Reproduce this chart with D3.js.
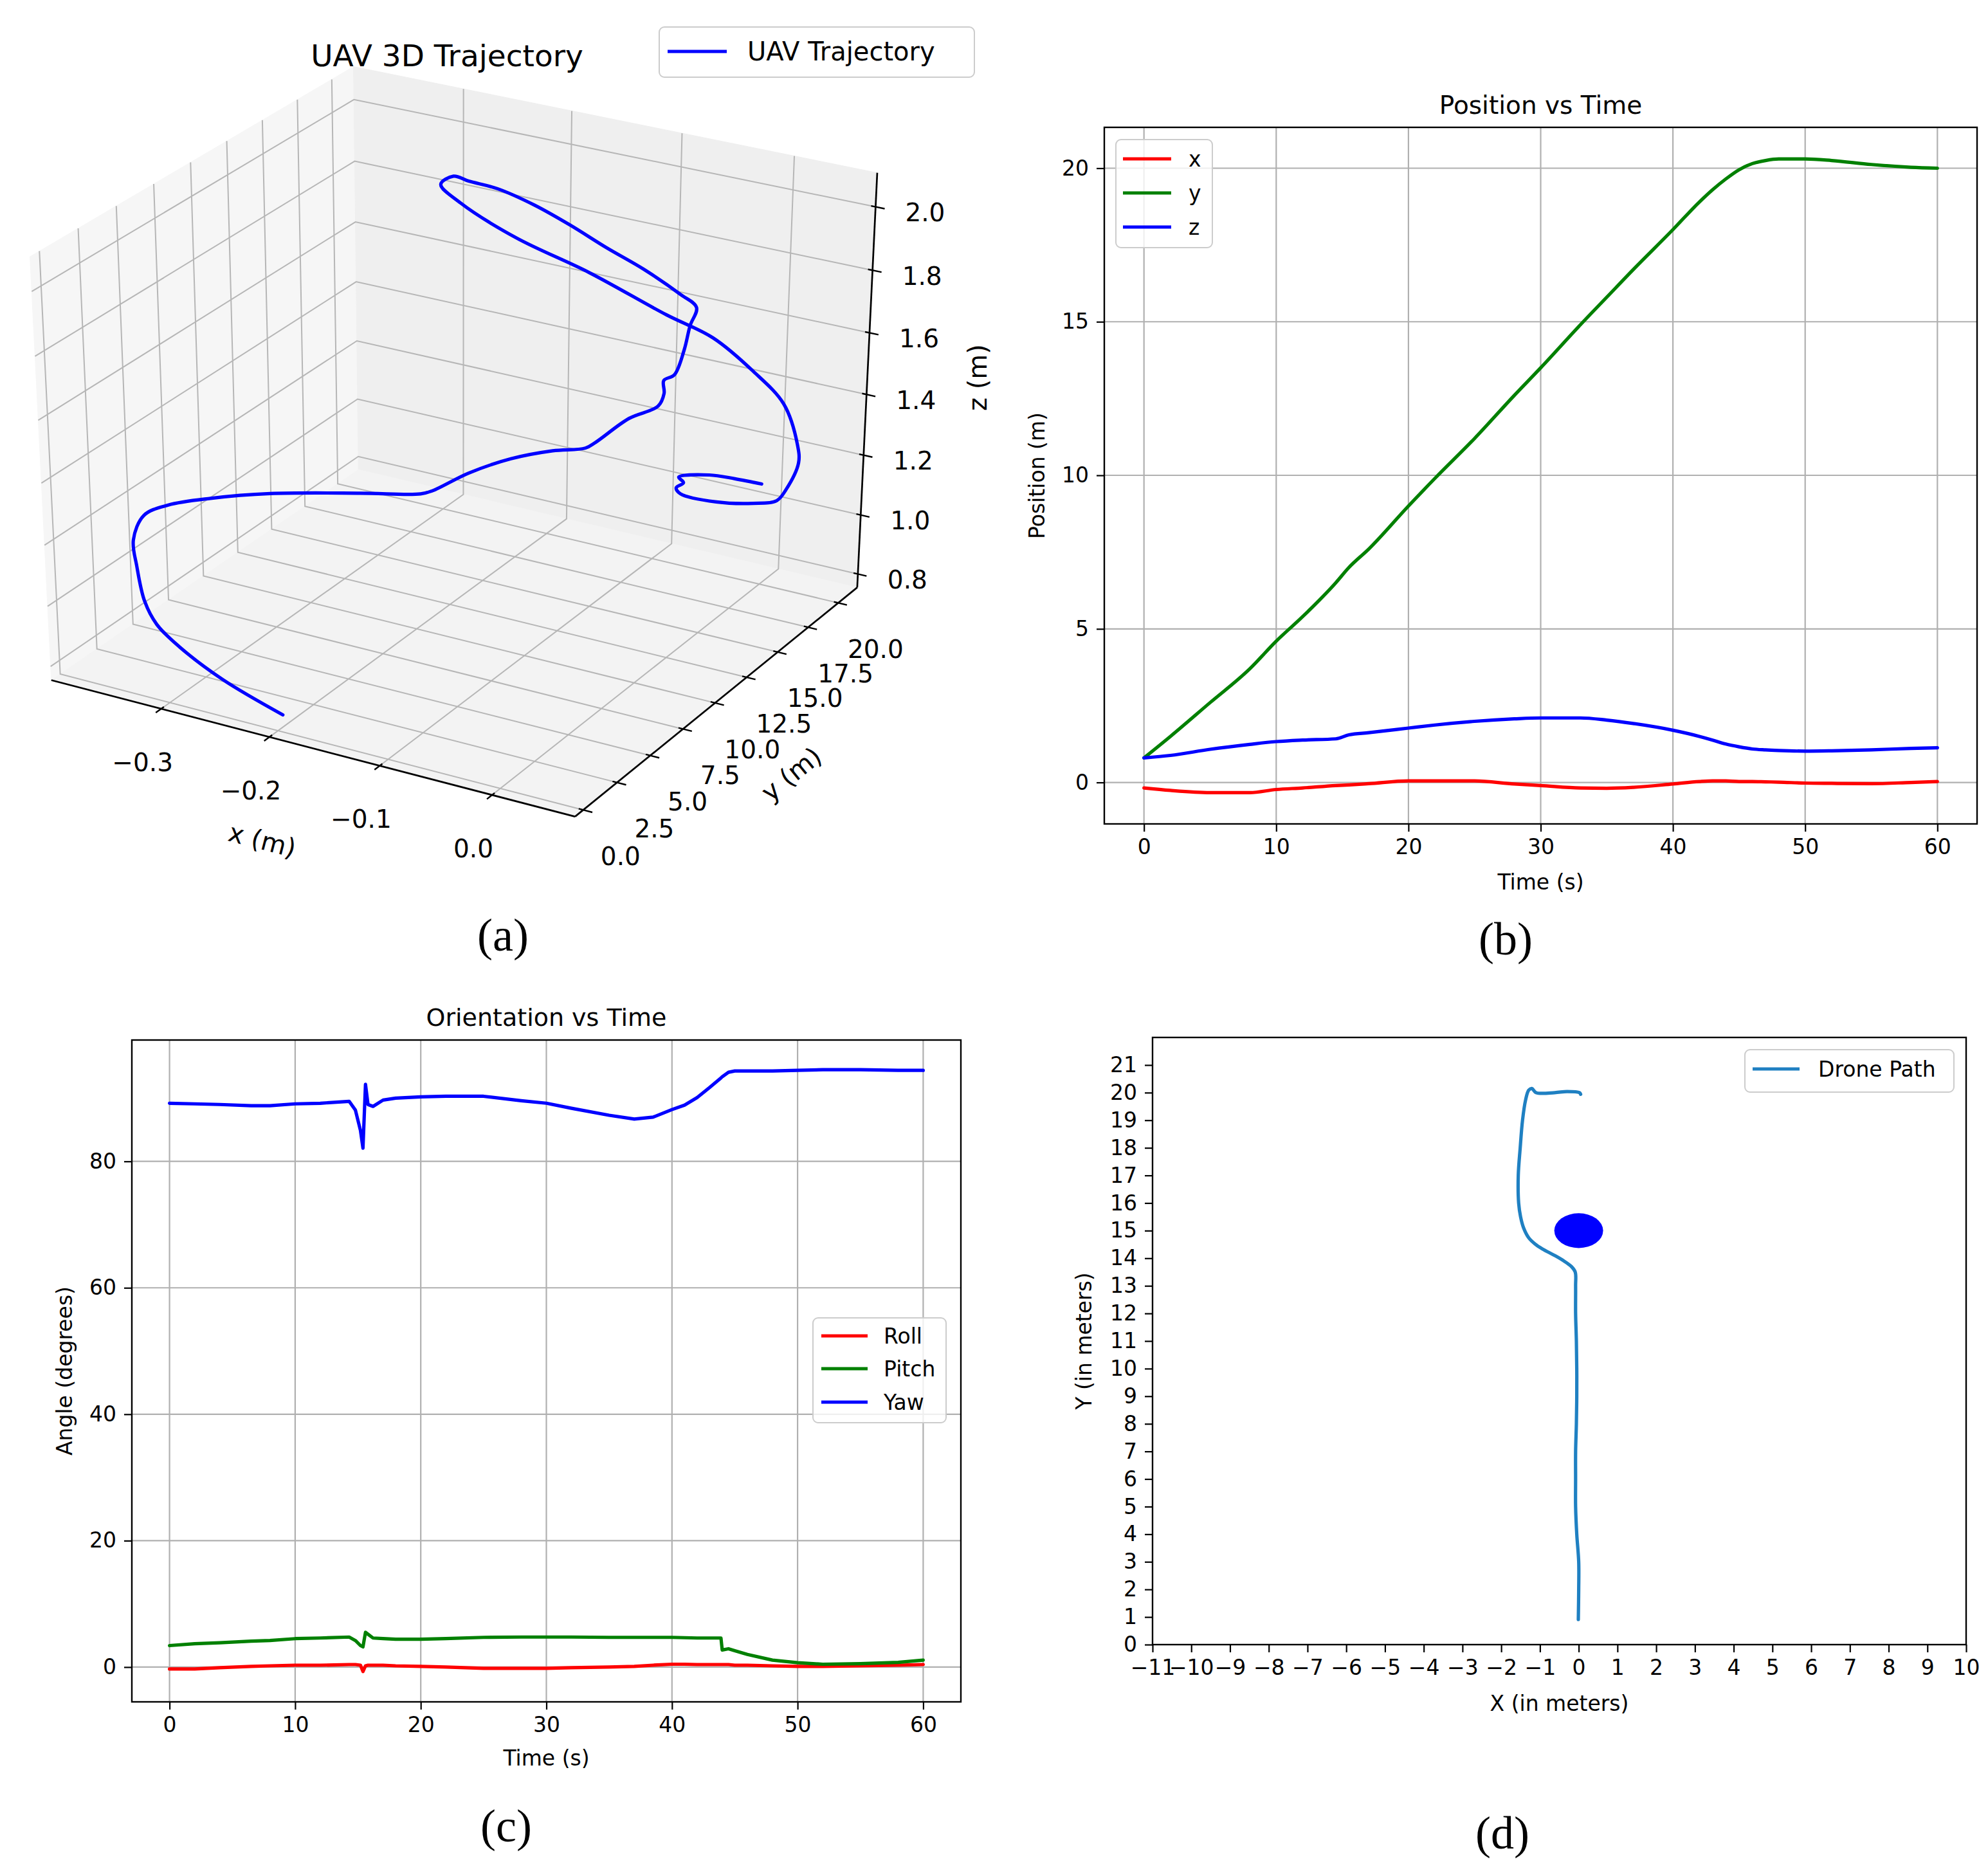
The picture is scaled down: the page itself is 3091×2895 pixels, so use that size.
<!DOCTYPE html>
<html>
<head>
<meta charset="utf-8">
<script src="https://cdn.jsdelivr.net/npm/d3@7"></script>
<style>
  body { margin: 0; background: #fff; }
</style>
</head>
<body>
<script>
// ---------- (a) UAV 3D trajectory ----------
const trajX = [-0.206, -0.273, -0.323, -0.349, -0.365, -0.379, -0.389, -0.386, -0.367, -0.332, -0.283, -0.210, -0.162, -0.153, -0.125, -0.093, -0.061, -0.037, -0.030, -0.007, 0.014, 0.017, 0.015, 0.022, 0.027, 0.028, 0.030, 0.013, -0.025, -0.064, -0.102, -0.140, -0.179, -0.210, -0.227, -0.241, -0.227, -0.185, -0.129, -0.069, -0.032, -0.001, 0.023, 0.033, 0.033, 0.020, 0.011, -0.011, -0.045, -0.078, -0.082, -0.075, -0.079, -0.050, -0.026, -0.001];
const trajY = [0.8, 1.68, 2.42, 2.78, 3.15, 3.7, 4.24, 4.8, 5.12, 5.49, 6.0, 6.8, 7.32, 7.48, 7.83, 8.3, 8.72, 9.13, 9.31, 9.79, 10.15, 10.32, 10.45, 10.63, 10.89, 11.2, 11.48, 11.75, 12.26, 12.76, 13.27, 13.78, 14.29, 14.7, 14.97, 15.16, 15.48, 16.2, 17.08, 17.96, 18.43, 18.96, 19.37, 19.7, 19.86, 20.1, 20.2, 20.27, 20.3, 20.28, 20.26, 20.23, 20.18, 20.1, 20.05, 20.0];
const trajZ = [0.773, 0.798, 0.836, 0.876, 0.927, 1.013, 1.074, 1.140, 1.180, 1.220, 1.261, 1.299, 1.321, 1.334, 1.403, 1.461, 1.500, 1.516, 1.535, 1.614, 1.659, 1.696, 1.731, 1.749, 1.823, 1.889, 1.939, 1.958, 1.992, 2.016, 2.043, 2.063, 2.071, 2.061, 2.057, 2.016, 1.959, 1.860, 1.767, 1.653, 1.594, 1.495, 1.395, 1.261, 1.195, 1.087, 1.040, 1.010, 0.985, 0.985, 1.003, 1.027, 1.044, 1.078, 1.087, 1.092];
const xLim3d = [-0.4034, 0.0727];
const yLim3d = [-0.6, 21.6];
const zLim3d = [0.754, 2.106];
const xTicks3d = [-0.3, -0.2, -0.1, 0.0];
const yTicks3d = [0, 2.5, 5, 7.5, 10, 12.5, 15, 17.5, 20];
const zTicks3d = [0.8, 1.0, 1.2, 1.4, 1.6, 1.8, 2.0];

// ---------- (b) Position vs Time ----------
const timePos = [0, 2, 5, 8, 10, 12, 14.5, 15.5, 17, 20, 22, 25, 28, 30, 33, 35, 37, 40, 42, 43, 44, 45, 46, 47, 48, 50, 52, 55, 58, 60];
const posX = [-0.18, -0.26, -0.33, -0.33, -0.23, -0.18, -0.1, -0.08, -0.04, 0.05, 0.05, 0.05, -0.05, -0.1, -0.18, -0.19, -0.16, -0.05, 0.03, 0.05, 0.05, 0.03, 0.03, 0.02, 0.01, -0.02, -0.03, -0.04, 0.0, 0.03];
const posY = [0.8, 1.5, 2.6, 3.7, 4.6, 5.4, 6.5, 7.0, 7.6, 9.0, 9.9, 11.2, 12.6, 13.5, 14.9, 15.8, 16.7, 18.0, 18.9, 19.3, 19.65, 19.95, 20.15, 20.25, 20.3, 20.3, 20.25, 20.12, 20.03, 20.0];
const posZ = [0.8, 0.88, 1.08, 1.24, 1.33, 1.38, 1.42, 1.55, 1.62, 1.77, 1.87, 1.99, 2.07, 2.1, 2.1, 2.03, 1.92, 1.7, 1.5, 1.38, 1.25, 1.16, 1.09, 1.06, 1.04, 1.02, 1.03, 1.06, 1.11, 1.13];
const timeTicks = [0, 10, 20, 30, 40, 50, 60];
const posTicks = [0, 5, 10, 15, 20];

// ---------- (c) Orientation vs Time ----------
const timeOri = [0, 2, 4, 6.5, 8, 10, 12, 14.3, 14.8, 15.2, 15.4, 15.6, 15.8, 16.2, 17, 18, 20, 22, 25, 28, 30, 32, 35, 37, 38.5, 40, 41, 42, 43, 43.9, 44, 44.5, 45, 46, 48, 50, 52, 55, 58, 60];
const roll  = [-0.3, -0.3, -0.1, 0.1, 0.2, 0.3, 0.3, 0.4, 0.4, 0.3, -0.7, 0.2, 0.3, 0.3, 0.3, 0.2, 0.1, 0.0, -0.2, -0.2, -0.2, -0.1, 0.0, 0.1, 0.3, 0.45, 0.45, 0.4, 0.4, 0.4, 0.4, 0.4, 0.3, 0.3, 0.2, 0.1, 0.1, 0.2, 0.3, 0.4];
const pitch = [3.4, 3.7, 3.85, 4.1, 4.2, 4.5, 4.6, 4.75, 4.2, 3.4, 3.2, 5.5, 5.2, 4.6, 4.5, 4.4, 4.4, 4.5, 4.7, 4.75, 4.75, 4.75, 4.7, 4.7, 4.7, 4.7, 4.65, 4.6, 4.6, 4.6, 2.7, 2.9, 2.6, 2.0, 1.1, 0.7, 0.45, 0.55, 0.75, 1.1];
const yaw   = [89.2, 89.1, 89.0, 88.8, 88.8, 89.1, 89.2, 89.5, 88.1, 84.9, 82.1, 92.2, 89.0, 88.7, 89.7, 90.0, 90.2, 90.3, 90.3, 89.6, 89.2, 88.4, 87.3, 86.7, 87.0, 88.2, 88.9, 90.1, 91.7, 93.2, 93.4, 94.1, 94.3, 94.3, 94.3, 94.4, 94.5, 94.5, 94.4, 94.4];
const angleTicks = [0, 20, 40, 60, 80];

// ---------- (d) Drone path ----------
const pathX = [-0.01, 0.0, 0.0, -0.05, -0.08, -0.08, -0.08, -0.06, -0.05, -0.05, -0.06, -0.08, -0.08, -0.09, -0.19, -0.38, -0.62, -0.94, -1.13, -1.29, -1.42, -1.50, -1.55, -1.56, -1.51, -1.45, -1.37, -1.29, -1.21, -1.10, -0.62, -0.30, 0.02, 0.05];
const pathY = [0.91, 2, 3, 4, 5, 6, 7, 8, 9, 10, 11, 12, 13, 13.5, 13.7, 13.9, 14.1, 14.34, 14.52, 14.74, 15.09, 15.5, 16.0, 17.0, 18.0, 19.0, 19.74, 20.09, 20.15, 20.0, 20.0, 20.04, 20.0, 19.94];
const obstacleCenter = [0, 15];
const obstacleRadius = 0.63;
const meterTicksX = [-11, -10, -9, -8, -7, -6, -5, -4, -3, -2, -1, 0, 1, 2, 3, 4, 5, 6, 7, 8, 9, 10];
const meterTicksY = [0, 1, 2, 3, 4, 5, 6, 7, 8, 9, 10, 11, 12, 13, 14, 15, 16, 17, 18, 19, 20, 21];

const captions = ['(a)', '(b)', '(c)', '(d)'];

// ------------------------------------------------------------
const W = 3091, H = 2895;
const FONT = '"DejaVu Sans", sans-serif';
const svg = d3.select('body').append('svg')
  .attr('width', W).attr('height', H)
  .attr('viewBox', `0 0 ${W} ${H}`);
svg.append('rect').attr('width', W).attr('height', H).attr('fill', '#fff');

function addText(g, x, y, str, fs, opts = {}) {
  const t = g.append('text')
    .attr('x', x).attr('y', y)
    .attr('font-family', opts.family || FONT)
    .attr('font-size', fs)
    .attr('fill', '#000')
    .attr('text-anchor', opts.anchor || 'middle')
    .text(str);
  if (opts.dy) t.attr('dy', opts.dy);
  if (opts.rotate !== undefined) t.attr('transform', `rotate(${opts.rotate},${x},${y})`);
  return t;
}

function legend(g, o) {
  g.append('rect')
    .attr('x', o.x).attr('y', o.y).attr('width', o.w).attr('height', o.h).attr('rx', 8)
    .attr('fill', '#fff').attr('fill-opacity', 0.8)
    .attr('stroke', '#cccccc').attr('stroke-width', 2);
  o.items.forEach((it, i) => {
    g.append('line')
      .attr('x1', o.lx0).attr('x2', o.lx1).attr('y1', o.rows[i]).attr('y2', o.rows[i])
      .attr('stroke', it.color).attr('stroke-width', o.lw || 5);
    addText(g, o.tx, o.rows[i], it.name, o.fs, { anchor: 'start', dy: '0.35em' });
  });
}

// generic 2D matplotlib-like panel
function panel2d(o) {
  const g = svg.append('g');
  const x = d3.scaleLinear().domain(o.xDomain).range([o.left, o.right]);
  const y = d3.scaleLinear().domain(o.yDomain).range([o.bottom, o.top]);

  if (o.grid) {
    g.append('g').selectAll('line').data(o.xTicks).join('line')
      .attr('x1', d => x(d)).attr('x2', d => x(d)).attr('y1', o.top).attr('y2', o.bottom)
      .attr('stroke', '#b0b0b0').attr('stroke-width', 2.2);
    g.append('g').selectAll('line').data(o.yTicks).join('line')
      .attr('y1', d => y(d)).attr('y2', d => y(d)).attr('x1', o.left).attr('x2', o.right)
      .attr('stroke', '#b0b0b0').attr('stroke-width', 2.2);
  }

  if (o.extra) o.extra(g, x, y);

  o.series.forEach(s => {
    const line = d3.line()
      .x(d => x(d[0])).y(d => y(d[1]))
      .curve(o.curve || d3.curveLinear);
    g.append('path')
      .datum(d3.zip(s.x, s.y))
      .attr('d', line)
      .attr('fill', 'none')
      .attr('stroke', s.color)
      .attr('stroke-width', 5.2)
      .attr('stroke-linejoin', 'round')
      .attr('stroke-linecap', 'round');
  });

  g.append('rect')
    .attr('x', o.left).attr('y', o.top)
    .attr('width', o.right - o.left).attr('height', o.bottom - o.top)
    .attr('fill', 'none').attr('stroke', '#000').attr('stroke-width', 2.4);

  const xa = g.append('g').attr('transform', `translate(0,${o.bottom})`)
    .call(d3.axisBottom(x).tickValues(o.xTicks).tickFormat(d3.format('d'))
      .tickSizeInner(12).tickSizeOuter(0).tickPadding(12));
  const ya = g.append('g').attr('transform', `translate(${o.left},0)`)
    .call(d3.axisLeft(y).tickValues(o.yTicks).tickFormat(d3.format('d'))
      .tickSizeInner(12).tickSizeOuter(0).tickPadding(12));
  [xa, ya].forEach(a => {
    a.select('.domain').remove();
    a.selectAll('line').attr('stroke', '#000').attr('stroke-width', 2.2);
    a.selectAll('text').attr('font-size', o.fs).attr('font-family', FONT).attr('fill', '#000');
  });

  if (o.title) addText(g, (o.left + o.right) / 2, o.titleY, o.title, o.titleFs);
  addText(g, (o.left + o.right) / 2, o.xLabelY, o.xLabel, o.fs, { dy: '0.35em' });
  addText(g, o.yLabelX, (o.top + o.bottom) / 2, o.yLabel, o.fs, { dy: '0.35em', rotate: -90 });

  if (o.legend) legend(g, Object.assign({ fs: o.fs }, o.legend));
  return g;
}

// ---------- panel (b) ----------
panel2d({
  left: 1717, right: 3074, top: 198, bottom: 1281,
  xDomain: [-3, 63], yDomain: [-1.35, 21.33],
  xTicks: timeTicks, yTicks: posTicks, grid: true, fs: 33,
  curve: d3.curveMonotoneX,
  series: [
    { x: timePos, y: posX, color: '#ff0000' },
    { x: timePos, y: posY, color: '#008000' },
    { x: timePos, y: posZ, color: '#0000ff' }
  ],
  title: 'Position vs Time', titleY: 177, titleFs: 39,
  xLabel: 'Time (s)', xLabelY: 1371,
  yLabel: 'Position (m)', yLabelX: 1612,
  legend: {
    x: 1735, y: 217, w: 150, h: 168, lx0: 1746, lx1: 1821, tx: 1848,
    rows: [247, 300, 353],
    items: [{ name: 'x', color: '#ff0000' }, { name: 'y', color: '#008000' }, { name: 'z', color: '#0000ff' }]
  }
});

// ---------- panel (c) ----------
panel2d({
  left: 205, right: 1494, top: 1617, bottom: 2646,
  xDomain: [-3, 63], yDomain: [-5.5, 99.2],
  xTicks: timeTicks, yTicks: angleTicks, grid: true, fs: 33,
  series: [
    { x: timeOri, y: roll, color: '#ff0000' },
    { x: timeOri, y: pitch, color: '#008000' },
    { x: timeOri, y: yaw, color: '#0000ff' }
  ],
  title: 'Orientation vs Time', titleY: 1595, titleFs: 38,
  xLabel: 'Time (s)', xLabelY: 2733,
  yLabel: 'Angle (degrees)', yLabelX: 100,
  legend: {
    x: 1264, y: 2049, w: 207, h: 163, lx0: 1277, lx1: 1349, tx: 1374,
    rows: [2077, 2128, 2180],
    items: [{ name: 'Roll', color: '#ff0000' }, { name: 'Pitch', color: '#008000' }, { name: 'Yaw', color: '#0000ff' }]
  }
});

// ---------- panel (d) ----------
panel2d({
  left: 1792, right: 3057, top: 1613, bottom: 2557,
  xDomain: [-11, 10], yDomain: [0, 22],
  xTicks: meterTicksX, yTicks: meterTicksY, grid: false, fs: 33,
  curve: d3.curveCatmullRom.alpha(0.5),
  extra: (g, x, y) => {
    g.append('ellipse')
      .attr('cx', x(obstacleCenter[0])).attr('cy', y(obstacleCenter[1]))
      .attr('rx', x(obstacleRadius) - x(0)).attr('ry', y(0) - y(obstacleRadius))
      .attr('fill', '#0000ff');
  },
  series: [{ x: pathX, y: pathY, color: '#1f80c2' }],
  xLabel: 'X (in meters)', xLabelY: 2648,
  yLabel: 'Y (in meters)', yLabelX: 1685,
  legend: {
    x: 2713, y: 1632, w: 325, h: 66, lx0: 2725, lx1: 2798, tx: 2827,
    rows: [1662],
    items: [{ name: 'Drone Path', color: '#1f80c2' }]
  }
});

// ---------- panel (a): 3D view (matplotlib-style perspective, elev 30, azim -60) ----------
(function draw3d() {
  const g = svg.append('g');
  const [x0, x1] = xLim3d, [y0, y1] = yLim3d, [z0, z1] = zLim3d;
  const nx = d3.scaleLinear().domain(xLim3d).range([0, 1]);
  const ny = d3.scaleLinear().domain(yLim3d).range([0, 1]);
  const nz = d3.scaleLinear().domain(zLim3d).range([0, 1]);

  const az = -60 * Math.PI / 180, el = 30 * Math.PI / 180, dist = 10;
  const nV = [Math.cos(az) * Math.cos(el), Math.sin(az) * Math.cos(el), Math.sin(el)];
  const uLen = Math.hypot(nV[0], nV[1]);
  const uV = [-nV[1] / uLen, nV[0] / uLen, 0];
  const vV = [nV[1] * uV[2] - nV[2] * uV[1], nV[2] * uV[0] - nV[0] * uV[2], nV[0] * uV[1] - nV[1] * uV[0]];
  const dot = (a, b) => a[0] * b[0] + a[1] * b[1] + a[2] * b[2];

  // projected view plane -> pixels
  const sx = d3.scaleLinear().domain([-0.095, 0.09]).range([-177, 1562]);
  const sy = d3.scaleLinear().domain([-0.095, 0.09]).range([1381, -10]);

  function proj(p) {
    const q = [nx(p[0]) - 0.5, ny(p[1]) - 0.5, nz(p[2]) - 0.5];
    const d = dist - dot(nV, q);
    return [sx(dot(uV, q) / d), sy(dot(vV, q) / d)];
  }
  const line3 = d3.line().x(d => proj(d)[0]).y(d => proj(d)[1]);

  // panes
  const panes = [
    { fill: '#f6f6f6', pts: [[x0, y0, z0], [x0, y1, z0], [x0, y1, z1], [x0, y0, z1]] },
    { fill: '#efefef', pts: [[x0, y1, z0], [x1, y1, z0], [x1, y1, z1], [x0, y1, z1]] },
    { fill: '#f3f3f3', pts: [[x0, y0, z0], [x1, y0, z0], [x1, y1, z0], [x0, y1, z0]] }
  ];
  g.append('g').selectAll('path').data(panes).join('path')
    .attr('d', d => line3(d.pts) + 'Z')
    .attr('fill', d => d.fill)
    .attr('stroke', d => d.fill).attr('stroke-width', 1);

  // grid
  const gridLines = [
    ...xTicks3d.map(t => [[t, y0, z0], [t, y1, z0], [t, y1, z1]]),
    ...yTicks3d.map(t => [[x1, t, z0], [x0, t, z0], [x0, t, z1]]),
    ...zTicks3d.map(t => [[x0, y0, t], [x0, y1, t], [x1, y1, t]])
  ];
  g.append('g').selectAll('path').data(gridLines).join('path')
    .attr('d', line3).attr('fill', 'none')
    .attr('stroke', '#b6b6b6').attr('stroke-width', 2);

  // axis lines
  const axes = [
    [[x0, y0, z0], [x1, y0, z0]],
    [[x1, y0, z0], [x1, y1, z0]],
    [[x1, y1, z0], [x1, y1, z1]]
  ];
  g.append('g').selectAll('path').data(axes).join('path')
    .attr('d', line3).attr('fill', 'none')
    .attr('stroke', '#000').attr('stroke-width', 2.7);

  // tick marks
  const dx = (x1 - x0) / 12, dy = (y1 - y0) / 12;
  const tickLines = [
    ...xTicks3d.map(t => [[t, y0 - 0.2 * dy, z0], [t, y0 + 0.1 * dy, z0]]),
    ...yTicks3d.map(t => [[x1 + 0.2 * dx, t, z0], [x1 - 0.1 * dx, t, z0]]),
    ...zTicks3d.map(t => [[x1 + 0.2 * dx, y1, t], [x1 - 0.1 * dx, y1, t]])
  ];
  g.append('g').selectAll('path').data(tickLines).join('path')
    .attr('d', line3).attr('fill', 'none')
    .attr('stroke', '#000').attr('stroke-width', 2.4);

  // tick labels
  const f1 = d3.format('.1f');
  const fs = 39;
  xTicks3d.forEach(t => {
    const p = proj([t, y0, z0]);
    addText(g, p[0] - 29, p[1] + 83, f1(t), fs, { dy: '0.35em' });
  });
  yTicks3d.forEach(t => {
    const p = proj([x1, t, z0]);
    addText(g, p[0] + 58, p[1] + 72, f1(t), fs, { dy: '0.35em' });
  });
  zTicks3d.forEach(t => {
    const p = proj([x1, y1, t]);
    addText(g, p[0] + 77, p[1] + 9, f1(t), fs, { dy: '0.35em' });
  });

  // axis labels
  const ang = (a, b) => Math.atan2(b[1] - a[1], b[0] - a[0]) * 180 / Math.PI;
  const xa0 = proj([x0, y0, z0]), xa1 = proj([x1, y0, z0]);
  const ya1 = proj([x1, y1, z0]);
  const za1 = proj([x1, y1, z1]);
  addText(g, (xa0[0] + xa1[0]) / 2 - 79, (xa0[1] + xa1[1]) / 2 + 143, 'x (m)', 40,
    { dy: '0.35em', rotate: ang(xa0, xa1) });
  addText(g, (xa1[0] + ya1[0]) / 2 + 117, (xa1[1] + ya1[1]) / 2 + 112, 'y (m)', 40,
    { dy: '0.35em', rotate: ang(xa1, ya1) });
  addText(g, (ya1[0] + za1[0]) / 2 + 172, (ya1[1] + za1[1]) / 2 - 4, 'z (m)', 40,
    { dy: '0.35em', rotate: -90 });

  // trajectory
  g.append('path')
    .datum(d3.zip(trajX, trajY, trajZ))
    .attr('d', d3.line().x(d => proj(d)[0]).y(d => proj(d)[1]).curve(d3.curveCatmullRom.alpha(0.5)))
    .attr('fill', 'none').attr('stroke', '#0000ff').attr('stroke-width', 5.2)
    .attr('stroke-linejoin', 'round').attr('stroke-linecap', 'round');

  // title + legend
  addText(g, 695, 103, 'UAV 3D Trajectory', 47);
  legend(g, {
    x: 1025, y: 42, w: 490, h: 78, lx0: 1038, lx1: 1130, tx: 1162, fs: 40,
    rows: [80], items: [{ name: 'UAV Trajectory', color: '#0000ff' }]
  });
})();

// ---------- sub-figure captions ----------
const capPos = [[782, 1478], [2341, 1484], [787, 2863], [2336, 2874]];
captions.forEach((c, i) => {
  addText(svg, capPos[i][0], capPos[i][1], c, 72, { family: '"Liberation Serif", "Times New Roman", serif' });
});
</script>
</body>
</html>
